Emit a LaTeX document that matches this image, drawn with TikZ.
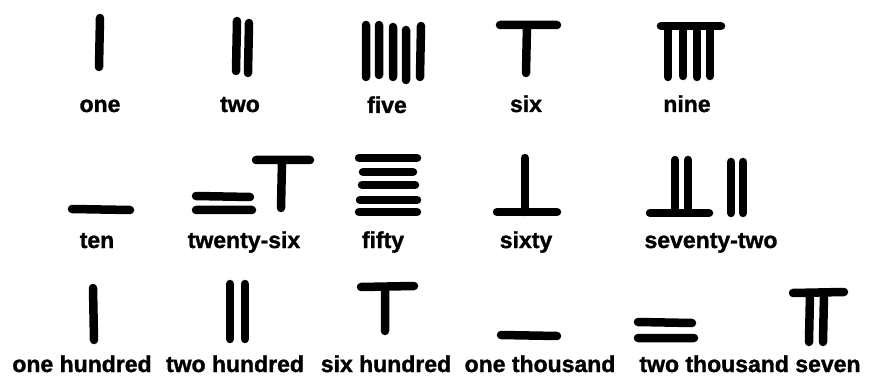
\documentclass[tikz,border=0pt]{standalone}
\usepackage{fontspec}
\setmainfont{Liberation Sans}
\newfontfamily\heavy[BoldFeatures={FakeBold=1.3}]{Liberation Sans}
\begin{document}
\begin{tikzpicture}[x=1pt,y=-1pt,
  rod/.style={line width=8.5pt,line cap=round,black},
  lbl/.style={anchor=base,inner sep=0pt,font=\fontsize{23}{27}\heavy\bfseries}]
\useasboundingbox[fill=white] (0,0) rectangle (870,382);
% ---- row 1 ----
\draw[rod] (100,18)--(99,67);
\draw[rod] (237,21)--(236,71) (249,23)--(248,73);
\draw[rod] (366,25)--(366,77) (379,25)--(379,75) (393,27)--(393,77) (406,30)--(406,80) (421,26)--(420,77);
\draw[rod] (500,25)--(557,25) (527,25)--(526,73);
\draw[rod] (661,26)--(721,26) (668,27)--(668,77) (683,27)--(683,76) (697,27)--(697,77) (710,27)--(710,76);
\node[lbl] (one) at (100,112) {one};
\node[lbl] (two) at (240,112) {two};
\node[lbl] (five) at (387,113) {five};
\node[lbl] (six) at (526,112) {six};
\node[lbl] (nine) at (687,112) {nine};
% ---- row 2 ----
\draw[rod] (72,209)--(130,210);
\draw[rod] (196,196)--(250,197) (196,210)--(252,210);
\draw[rod] (256,160)--(310,160) (282,161)--(281,208);
\draw[rod] (359,158)--(417,158) (363,172)--(413,172) (362,185)--(415,185) (360,200)--(417,200) (359,212)--(417,212);
\draw[rod] (525,158)--(525,212) (497,212)--(557,212);
\draw[rod] (675,160)--(675,212) (688,160)--(688,212) (650,213)--(709,213);
\draw[rod] (731,162)--(731,213) (743,162)--(743,213);
\node[lbl] (ten) at (97,248) {ten};
\node[lbl] (twentysix) at (244,248) {twenty-six};
\node[lbl] (fifty) at (383,248) {fifty};
\node[lbl] (sixty) at (526,248) {sixty};
\node[lbl] (seventytwo) at (711,248) {seventy-two};
% ---- row 3 ----
\draw[rod] (93,288)--(94,340);
\draw[rod] (230,284)--(230,339) (245,284)--(245,339);
\draw[rod] (361,287)--(414,286) (385,288)--(385,331);
\draw[rod] (501,335)--(557,336);
\draw[rod] (638,322)--(692,323) (638,338)--(694,338);
\draw[rod] (793,293)--(844,292) (810,294)--(809,342) (824,294)--(823,342);
\node[lbl] (onehundred) at (82,372) {one hundred};
\node[lbl] (twohundred) at (235,372) {two hundred};
\node[lbl] (sixhundred) at (386,372) {six hundred};
\node[lbl] (onethousand) at (540,372) {one thousand};
\node[lbl] (twothousandseven) at (750,372) {two thousand seven};
\end{tikzpicture}
\end{document}
